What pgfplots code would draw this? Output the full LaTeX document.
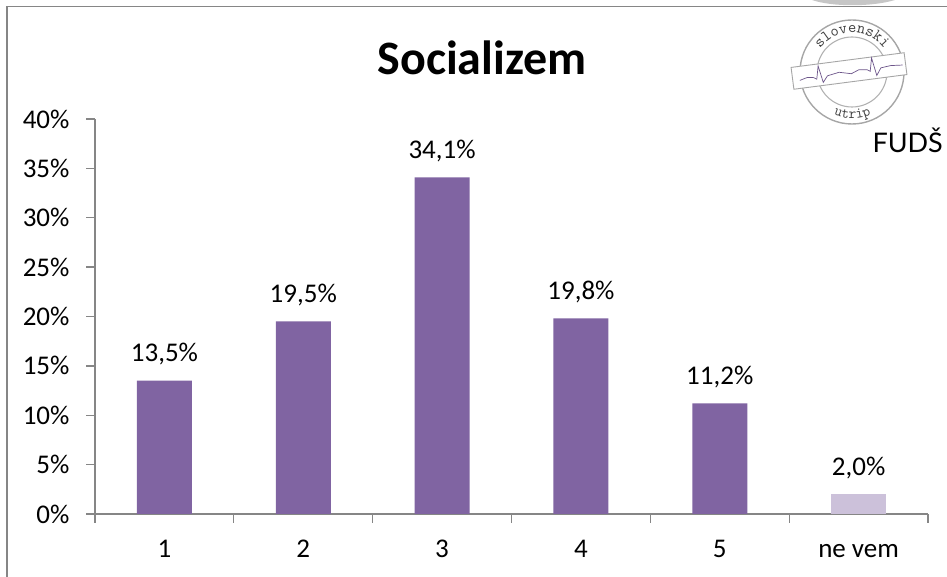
\documentclass[border=0pt]{standalone}
\usepackage{fontspec}
\setmainfont{Carlito}
\newfontfamily\logofont{Lato}
\usepackage{pgfplots}
\pgfplotsset{compat=1.18}
\usetikzlibrary{decorations.text}
\definecolor{barpurple}{HTML}{8064A2}
\definecolor{barlight}{HTML}{CCC1DA}
\definecolor{axisgray}{HTML}{868686}
\pgfplotstableread{
x val
0 13.5
1 19.5
2 34.1
3 19.8
4 11.2
}\maindata
\pgfplotstableread{
x val
5 2.0
}\nevem
\begin{document}
\begin{tikzpicture}[x=1pt,y=1pt]
\useasboundingbox (0,0) rectangle (947,577);
% outer frame
\draw[axisgray,line width=1.7pt] (7,-2) -- (7,570.5) -- (950,570.5);
\fill[gray!45] (812,577) .. controls (832,570) and (872,570) .. (895,577) -- cycle;
\begin{axis}[
    at={(95pt,63pt)},
    anchor=south west,
    scale only axis,
    width=833pt,
    height=395pt,
    xmin=-0.5, xmax=5.5,
    ymin=0, ymax=40,
    axis x line=bottom,
    axis y line=left,
    axis line style={axisgray,line width=1.3pt,-},
    % ticks sit between the categories, names come from the extra ticks
    xtick={-0.5,0.5,1.5,2.5,3.5,4.5,5.5},
    xticklabels={},
    extra x ticks={0,1,2,3,4,5},
    extra x tick labels={1,2,3,4,5,ne vem},
    extra x tick style={major tick length=0pt,xticklabel style={anchor=base,yshift=-44pt}},
    ytick={0,5,...,40},
    yticklabel={\pgfmathprintnumber{\tick}\%},
    /pgf/number format/assume math mode=true,
    major tick length=9pt,
    tick style={axisgray,line width=1.3pt},
    tick align=outside,
    tick label style={font=\fontsize{27}{29}\selectfont,black},
    yticklabel style={xshift=-13pt},
    title={\fontsize{48}{52}\selectfont\bfseries Socializem},
    title style={at={(axis description cs:0.4646,1.098)},anchor=base},
    ybar,
    bar width=55pt,
    bar shift=0pt,
    clip=false,
    nodes near coords={\pgfmathprintnumber[fixed,fixed zerofill,precision=1,use comma]{\pgfplotspointmeta}\%},
    every node near coord/.append style={font=\fontsize{27}{29}\selectfont,black,yshift=12pt},
]
\addplot[fill=barpurple,draw=none] table[x=x,y=val] {\maindata};
\addplot[fill=barlight,draw=none] table[x=x,y=val] {\nevem};
\end{axis}
% logo
\begin{scope}[shift={(852,505)}]
\draw[gray!70,line width=1.4pt] (0,0) circle (52);
\draw[gray!60,line width=1.1pt] (0,0) circle (35);
\path[decorate,decoration={text along path,text align=center,
  text={|\ttfamily\fontsize{16}{16}\selectfont\color{black!75}|slovenski}}]
  (-38,10) arc (165:15:39.5);
\path[decorate,decoration={text along path,text align=center,
  text={|\ttfamily\fontsize{15}{15}\selectfont\color{black!75}|utrip}}]
  (-26,-38) arc (235:305:46);
\begin{scope}[shift={(-3,1)},rotate=7.4]
\fill[white,draw=gray!70,line width=.9pt] (-57,-11) rectangle (57,11);
\draw[barpurple!85!black,line width=.7pt] (-50,-3) -- (-42,-1) -- (-36,-2) -- (-33,-4) -- (-30,9) -- (-27,-8) -- (-22,-2) -- (-10,0) -- (2,-3) -- (10,0) -- (18,-1) -- (21,-3) -- (24,10) -- (27,-8) -- (32,-1) -- (42,0) -- (54,-1);
\end{scope}
\end{scope}
\node[font=\logofont\fontsize{27}{27}\selectfont,anchor=base east,black,inner sep=0pt] at (943,424) {FUDŠ};
\end{tikzpicture}
\end{document}
